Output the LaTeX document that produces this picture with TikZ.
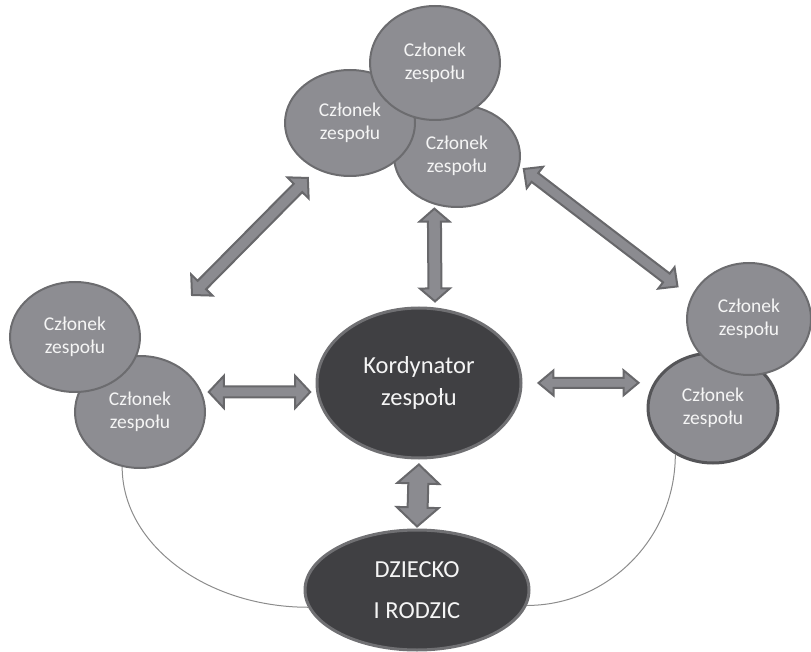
\documentclass[tikz,border=0pt]{standalone}
\usepackage{fontspec}
\setmainfont{Carlito}
\usetikzlibrary{shapes.geometric, calc}

\definecolor{memfill}{RGB}{141,141,146}
\definecolor{memedge}{RGB}{108,108,111}
\definecolor{memedgedark}{RGB}{85,85,88}
\definecolor{corefill}{RGB}{64,64,67}
\definecolor{coreedge}{RGB}{112,112,115}
\definecolor{armfill}{RGB}{139,139,144}
\definecolor{armedge}{RGB}{104,104,107}
\definecolor{linkgray}{RGB}{140,140,140}
\definecolor{labelwhite}{RGB}{245,245,245}

% two-headed block arrow: ends, shorten at both ends, half shaft, half head, head length
\newcommand\dblarrow[7]{%
  \coordinate (dbS) at ($(#1)!#3!(#2)$);
  \coordinate (dbE) at ($(#2)!#4!(#1)$);
  \draw[arm] (dbS)
    -- ($(dbS)!#7!(dbE)!#6!90:(dbE)$)
    -- ($(dbS)!#7!(dbE)!#5!90:(dbE)$)
    -- ($(dbE)!#7!(dbS)!#5!-90:(dbS)$)
    -- ($(dbE)!#7!(dbS)!#6!-90:(dbS)$)
    -- (dbE)
    -- ($(dbE)!#7!(dbS)!#6!90:(dbS)$)
    -- ($(dbE)!#7!(dbS)!#5!90:(dbS)$)
    -- ($(dbS)!#7!(dbE)!#5!-90:(dbE)$)
    -- ($(dbS)!#7!(dbE)!#6!-90:(dbE)$)
    -- cycle;
}

\begin{document}
\begin{tikzpicture}[x=1pt, y=-1pt,
    member/.style={ellipse, draw=memedge, line width=2pt, fill=memfill, text=labelwhite,
      inner sep=0pt, align=center, font=\fontsize{19.5pt}{23pt}\selectfont},
    core/.style={ellipse, draw=coreedge, line width=3pt, fill=corefill, text=labelwhite,
      inner sep=0pt, align=center},
    arm/.style={draw=armedge, fill=armfill, line width=2pt, line join=miter},
    link/.style={draw=linkgray, line width=1pt}]
  \useasboundingbox (0,0) rectangle (811,652);

  % Team members at the top
  \node[member, minimum width=126pt, minimum height=102pt] (t3) at (457,156) {Członek\\zespołu};
  \node[member, minimum width=130pt, minimum height=106pt] (t2) at (350,123) {Członek\\zespołu};
  \node[member, minimum width=130pt, minimum height=114pt] (t1) at (435,63) {Członek\\zespołu};

  % Left pair
  \node[member, minimum width=130pt, minimum height=112pt] (m2) at (140,412) {Członek\\zespołu};
  \node[member, minimum width=130pt, minimum height=110pt] (m1) at (75,337) {Członek\\zespołu};

  % Right pair
  \node[member, draw=memedgedark, line width=3pt, minimum width=130pt, minimum height=110pt] (r2) at (713,408) {Członek\\zespołu};
  \node[member, minimum width=124pt, minimum height=112pt] (r1) at (749,319) {Członek\\zespołu};

  % Coordinator and family
  \node[core, minimum width=204pt, minimum height=150pt, font=\fontsize{24.5pt}{32pt}\selectfont] (kord) at (419,383) {Kordynator\\zespołu};
  \node[core, minimum width=224pt, minimum height=120pt, font=\fontsize{24.5pt}{41pt}\selectfont] (dz) at (417,590) {DZIECKO\\I RODZIC};

  % Thin links to the family
  \draw[link] (m2.252) .. controls +(0,78) and +(-101,0) .. (dz.189);
  \draw[link] (r2.231) .. controls +(0,84) and +(81,0) .. (dz.-8);

  % Block arrows
  \coordinate (freeL) at (192,295);
  \dblarrow{kord.south}{dz.north}{5pt}{2pt}{10pt}{21pt}{19pt}
  \dblarrow{t3.245}{kord.78}{4pt}{6pt}{6.5pt}{15pt}{13pt}
  \dblarrow{m2.18}{kord.185}{7pt}{6pt}{5.5pt}{16pt}{15pt}
  \dblarrow{kord.east}{r2.157}{16pt}{15pt}{5pt}{12.5pt}{15pt}
  \dblarrow{freeL}{t2.234}{0pt}{12pt}{6pt}{15pt}{14pt}
  \dblarrow{t3.-9}{r1.159}{5pt}{17pt}{5.5pt}{13.5pt}{14pt}
\end{tikzpicture}
\end{document}
